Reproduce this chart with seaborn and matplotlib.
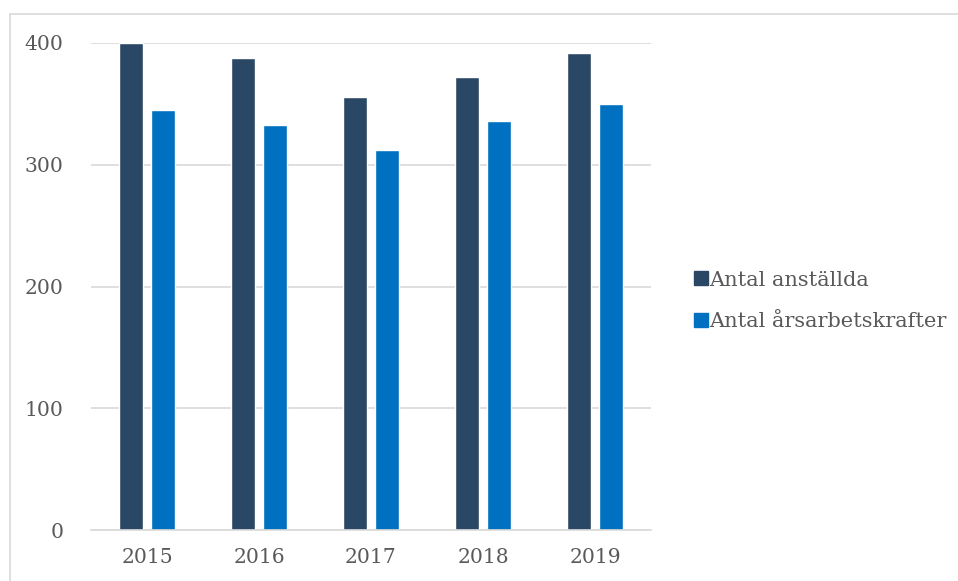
import matplotlib
matplotlib.use("Agg")
import matplotlib.pyplot as plt
from matplotlib.lines import Line2D
import seaborn as sns
import pandas as pd

years = ["2015", "2016", "2017", "2018", "2019"]
anstallda = [400, 388, 356, 372, 392]
arsarbetskrafter = [345, 333, 312, 336, 350]
series_names = ["Antal anställda", "Antal årsarbetskrafter"]
colors = ["#2B4766", "#0070C0"]
yticks = [0, 100, 200, 300, 400]

df = pd.DataFrame({
    "year": years * 2,
    "value": anstallda + arsarbetskrafter,
    "series": [series_names[0]] * len(years) + [series_names[1]] * len(years),
})

sns.set_style("white")
plt.rcParams["font.family"] = ["DejaVu Serif", "Liberation Serif"]

fig = plt.figure(figsize=(9.58, 5.81), dpi=100)
ax = fig.add_axes([91 / 958, 51 / 581, 560 / 958, 487 / 581])

sns.barplot(data=df, x="year", y="value", hue="series", palette=colors,
            width=0.57, gap=0.22, ax=ax, legend=False, saturation=1)

ax.set_ylim(0, 400)
ax.set_xlim(-0.5, 4.5)
ax.set_yticks(yticks)
ax.set_yticklabels([str(t) for t in yticks])
ax.set_xlabel("")
ax.set_ylabel("")
ax.yaxis.grid(True, color="#D9D9D9", linewidth=1.2)
ax.set_axisbelow(True)
for s in ["top", "right", "left"]:
    ax.spines[s].set_visible(False)
ax.spines["bottom"].set_color("#D9D9D9")
ax.spines["bottom"].set_linewidth(1.2)
ax.tick_params(axis="both", length=0, labelsize=14.6, labelcolor="#595959")
ax.tick_params(axis="y", pad=20)
ax.tick_params(axis="x", pad=13)

handles = [Line2D([0], [0], marker="s", linestyle="none", markersize=9.4,
                  markerfacecolor=c, markeredgecolor=c) for c in colors]
fig.legend(handles, series_names, loc="center left",
           bbox_to_anchor=(676 / 958, 1 - 301 / 581), frameon=False,
           fontsize=15, labelcolor="#595959", handlelength=0.6,
           handletextpad=0.1, labelspacing=1.1)

# outer chart border
fig.add_artist(plt.Line2D([10 / 958, 10 / 958], [0, 1 - 13.5 / 581],
                          transform=fig.transFigure, color="#D9D9D9", linewidth=1.2))
fig.add_artist(plt.Line2D([10 / 958, 1], [1 - 13.5 / 581, 1 - 13.5 / 581],
                          transform=fig.transFigure, color="#D9D9D9", linewidth=1.2))

fig.savefig("out.png", dpi=100)
